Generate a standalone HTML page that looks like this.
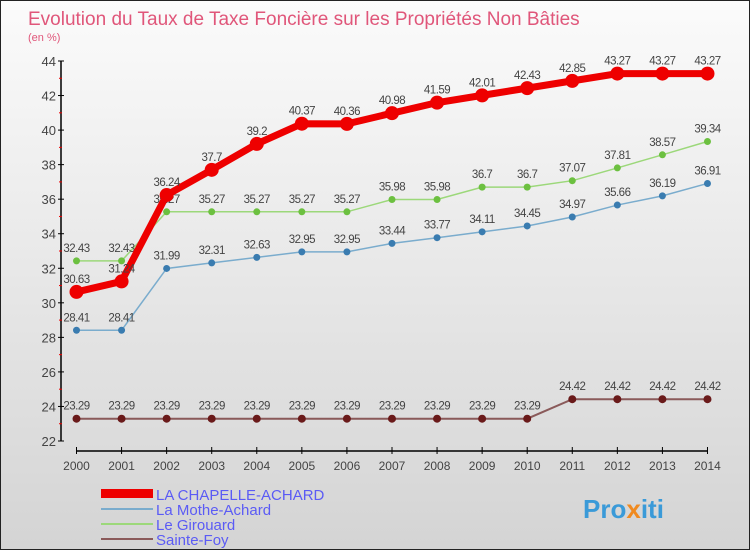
<!DOCTYPE html>
<html><head><meta charset="utf-8"><style>
body{margin:0}
#c{width:750px;height:550px;position:relative;background:linear-gradient(#fbfbfb,#d4d4d4);border:1px solid #222;box-sizing:border-box;font-family:"Liberation Sans",sans-serif;overflow:hidden}
text{font-family:"Liberation Sans",sans-serif}
</style></head><body>
<div id="c">
<svg id="s" width="750" height="550">
<text x="27" y="24" font-size="19" fill="#e0567a">Evolution du Taux de Taxe Foncière sur les Propriétés Non Bâties</text>
<text x="27" y="40" font-size="11" fill="#e0567a">(en %)</text>
<g id="axes"></g><g id="series"></g>
<g>
<rect x="100" y="488" width="52" height="9" fill="#e00"/>
<text x="155" y="499" font-size="15" fill="#5b5bf5">LA CHAPELLE-ACHARD</text>
<rect x="100" y="507" width="52" height="2" fill="#7aaccd"/>
<text x="155" y="514" font-size="15" fill="#5b5bf5">La Mothe-Achard</text>
<rect x="100" y="522" width="52" height="2" fill="#9cd87a"/>
<text x="155" y="529" font-size="15" fill="#5b5bf5">Le Girouard</text>
<rect x="100" y="537" width="52" height="2" fill="#8a5a5a"/>
<text x="155" y="544" font-size="15" fill="#5b5bf5">Sainte-Foy</text>
</g>
<text x="582" y="517" font-size="26" font-weight="bold" fill="#3a9ad8">Pro<tspan fill="#f08a20">x</tspan>iti</text>
</svg></div>
<script>
const years=[2000,2001,2002,2003,2004,2005,2006,2007,2008,2009,2010,2011,2012,2013,2014];
const yTicks=[22,24,26,28,30,32,34,36,38,40,42,44];
const chapelle=[30.63,31.24,36.24,37.7,39.2,40.37,40.36,40.98,41.59,42.01,42.43,42.85,43.27,43.27,43.27];
const mothe=[28.41,28.41,31.99,32.31,32.63,32.95,32.95,33.44,33.77,34.11,34.45,34.97,35.66,36.19,36.91];
const girouard=[32.43,32.43,35.27,35.27,35.27,35.27,35.27,35.98,35.98,36.7,36.7,37.07,37.81,38.57,39.34];
const sainteFoy=[23.29,23.29,23.29,23.29,23.29,23.29,23.29,23.29,23.29,23.29,23.29,24.42,24.42,24.42,24.42];
const NS="http://www.w3.org/2000/svg";
const X=i=>75.5+i*45.07;
const Y=v=>440-(v-22)*(380/22);
function mk(t,a,p){const e=document.createElementNS(NS,t);for(const k in a)e.setAttribute(k,a[k]);p.appendChild(e);return e;}
const ax=document.getElementById('axes');
let l=mk('line',{x1:60,y1:60,x2:60,y2:440,stroke:'#000','stroke-width':1.5},ax);


l=mk('line',{x1:75,y1:450,x2:707,y2:450,stroke:'#000','stroke-width':1.5},ax);


yTicks.forEach((v,i)=>{
 mk('line',{x1:57,y1:Y(v),x2:63,y2:Y(v),stroke:'#000'},ax);
 if(i<yTicks.length-1)mk('line',{x1:58,y1:Y(v+1),x2:61,y2:Y(v+1),stroke:'#e00'},ax);
 const t=mk('text',{x:55,y:Y(v)+5,'text-anchor':'end','font-size':13,fill:'#444'},ax);
 t.textContent=v;
 
 
});
years.forEach((y,i)=>{
 mk('line',{x1:X(i),y1:446,x2:X(i),y2:453,stroke:'#000'},ax);
 const t=mk('text',{x:X(i),y:469,'text-anchor':'middle','font-size':12,fill:'#444'},ax);
 t.textContent=y;
 
 
});
const sg=document.getElementById('series');
function draw(vals,name,color,dot,w,r){
 const g=mk('g',{},sg);
 
 
 const p=mk('polyline',{points:vals.map((v,i)=>X(i)+','+Y(v)).join(' '),fill:'none',stroke:color,'stroke-width':w},g);
 
 
 vals.forEach((v,i)=>{
  const c=mk('circle',{cx:X(i),cy:Y(v),r:r,fill:dot},g);
  
  
  const t=mk('text',{x:X(i),y:Y(v)-9,'text-anchor':'middle','font-size':11.5,fill:'#444','letter-spacing':'-0.5'},g);
  t.textContent=v;
  
  
 });
}
draw(sainteFoy,'sainte-foy','#8a5a5a','#6a1a1a',2,4);
draw(mothe,'mothe-achard','#7aaccd','#3a7cb0',1.5,3.5);
draw(girouard,'girouard','#9cd87a','#6cc040',1.5,3.5);
draw(chapelle,'chapelle-achard','#e00','#e00',7,7);
</script>
</body></html>
